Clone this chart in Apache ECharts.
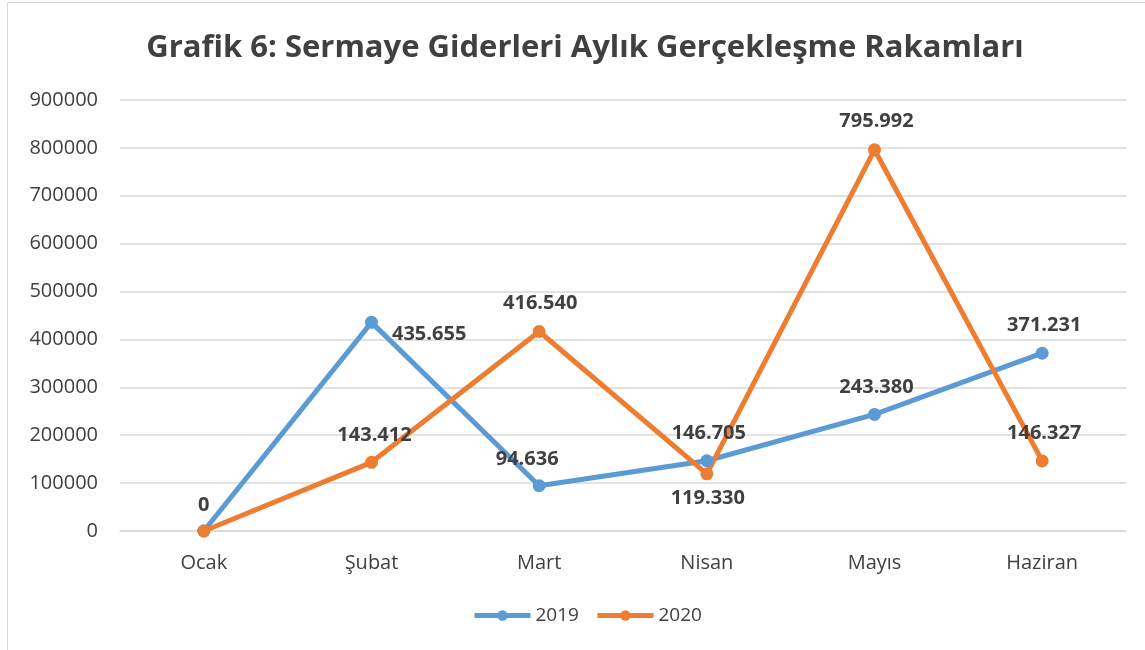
<!DOCTYPE html>
<html><head><meta charset="utf-8">
<script src="https://cdn.jsdelivr.net/npm/echarts@6/dist/echarts.min.js"></script>
<style>
html,body{margin:0;padding:0;background:#fff;}
#frame{position:absolute;left:7px;top:2px;width:1150px;height:660px;border:1px solid #d9d9d9;box-sizing:border-box;}
#c{position:absolute;left:0;top:0;width:1145px;height:650px;}
</style></head>
<body><div id="frame"></div><div id="c"></div>
<script>
const categories = ['Ocak','Şubat','Mart','Nisan','Mayıs','Haziran'];
const values2019 = [0, 435655, 94636, 146705, 243380, 371231];
const values2020 = [0, 143412, 416540, 119330, 795992, 146327];
const yTicks = {min: 0, max: 900000, interval: 100000};

const fmt = v => v.toString().replace(/\B(?=(\d{3})+(?!\d))/g, '.');
const labelBase = {show:true, fontFamily:'Open Sans', fontWeight:'bold', fontSize:20, color:'#404040', formatter:p=>fmt(p.value)};

const lab2019 = [
  {show:false},
  {position:'right', offset:[9,12]},
  {position:'top', offset:[-12,-5]},
  {position:'top', offset:[2,-6]},
  {position:'top', offset:[2,-6]},
  {position:'top', offset:[2,-6]}
];
const lab2020 = [
  {position:'top', offset:[0,-4]},
  {position:'top', offset:[3,-6]},
  {position:'top', offset:[1,-7]},
  {position:'bottom', offset:[1,3]},
  {position:'top', offset:[2,-7]},
  {position:'top', offset:[2,-6]}
];

const chart = echarts.init(document.getElementById('c'));
chart.setOption({
  animation:false,
  title:{text:'Grafik 6: Sermaye Giderleri Aylık Gerçekleşme Rakamları', left:580, top:28, textAlign:'center',
    textStyle:{fontFamily:'Open Sans', fontWeight:'bold', fontSize:31, color:'#404040'}},
  grid:{left:120, right:19, top:100, bottom:119},
  legend:{bottom:20, left:467, itemWidth:56, itemHeight:13, itemGap:16,
    lineStyle:{width:5},
    textStyle:{fontFamily:'Open Sans', fontSize:19, color:'#404040'},
    data:['2019','2020']},
  xAxis:{type:'category', data:categories, boundaryGap:true,
    axisLine:{lineStyle:{color:'#d9d9d9', width:1.5}}, axisTick:{show:false},
    axisLabel:{fontFamily:'Open Sans', fontSize:20, color:'#404040', margin:22}},
  yAxis:{type:'value', min:yTicks.min, max:yTicks.max, interval:yTicks.interval,
    axisLine:{show:false}, axisTick:{show:false},
    splitLine:{lineStyle:{color:'#d9d9d9', width:1.5}},
    axisLabel:{fontFamily:'Open Sans', fontSize:20, color:'#404040', margin:22, formatter:v=>String(v)}},
  series:[
    {name:'2019', type:'line', data:values2019.map((v,i)=>({value:v, label:Object.assign({}, labelBase, lab2019[i])})),
      symbol:'circle', symbolSize:13, lineStyle:{width:5, color:'#5B9BD5'}, itemStyle:{color:'#5B9BD5'}, label:labelBase},
    {name:'2020', type:'line', data:values2020.map((v,i)=>({value:v, label:Object.assign({}, labelBase, lab2020[i])})),
      symbol:'circle', symbolSize:13, lineStyle:{width:5, color:'#ED7D31'}, itemStyle:{color:'#ED7D31'}, label:labelBase}
  ]
});
</script></body></html>
